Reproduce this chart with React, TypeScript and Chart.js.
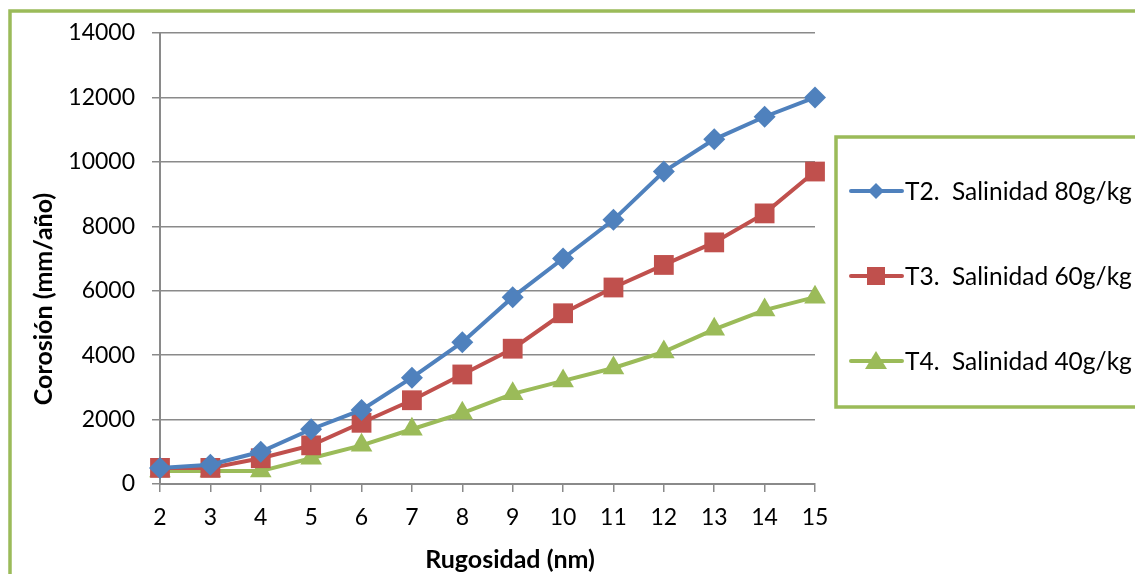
import React, { useEffect, useRef } from "react";
import { Chart, registerables } from "chart.js";

Chart.register(...registerables);

const categories = ["2", "3", "4", "5", "6", "7", "8", "9", "10", "11", "12", "13", "14", "15"];
const t2Values = [500, 600, 1000, 1700, 2300, 3300, 4400, 5800, 7000, 8200, 9700, 10700, 11400, 12000];
const t3Values = [500, 500, 800, 1200, 1900, 2600, 3400, 4200, 5300, 6100, 6800, 7500, 8400, 9700];
const t4Values = [400, 400, 400, 800, 1200, 1700, 2200, 2800, 3200, 3600, 4100, 4800, 5400, 5800];
const seriesNames = ["T2.  Salinidad 80g/kg", "T3.  Salinidad 60g/kg", "T4.  Salinidad 40g/kg"];
const xTitle = "Rugosidad (nm)";
const yTitle = "Corosión (mm/año)";

const BLUE = "#4F81BD";
const RED = "#C0504D";
const GREEN = "#9BBB59";
const FONT = "Lato, 'Open Sans', sans-serif";

const decorPlugin = {
  id: "decor",
  afterDraw(chart: any) {
    const ctx = chart.ctx as CanvasRenderingContext2D;
    ctx.save();
    // outer frame
    ctx.strokeStyle = GREEN;
    ctx.lineWidth = 3.5;
    ctx.strokeRect(10, 11, 1200, 700);
    // axis titles
    ctx.fillStyle = "#000";
    ctx.font = `bold 25px ${FONT}`;
    ctx.textAlign = "center";
    ctx.textBaseline = "middle";
    ctx.fillText(xTitle, 510, 560);
    ctx.save();
    ctx.translate(44, 299);
    ctx.rotate(-Math.PI / 2);
    ctx.fillText(yTitle, 0, 0);
    ctx.restore();
    // legend box
    ctx.fillStyle = "#fff";
    ctx.fillRect(836, 137, 400, 270);
    ctx.strokeStyle = GREEN;
    ctx.lineWidth = 3.5;
    ctx.strokeRect(836, 137, 400, 270);
    const ys = [191, 276, 361];
    const colors = [BLUE, RED, GREEN];
    chart.data.datasets.forEach((ds: any, i: number) => {
      const y = ys[i];
      ctx.strokeStyle = colors[i];
      ctx.lineWidth = 4;
      ctx.lineCap = "round";
      ctx.beginPath();
      ctx.moveTo(851, y);
      ctx.lineTo(902, y);
      ctx.stroke();
      ctx.fillStyle = colors[i];
      ctx.beginPath();
      const cx = 876;
      if (i === 0) {
        ctx.moveTo(cx, y - 8);
        ctx.lineTo(cx + 8, y);
        ctx.lineTo(cx, y + 8);
        ctx.lineTo(cx - 8, y);
      } else if (i === 1) {
        ctx.rect(cx - 9, y - 9, 18, 18);
      } else {
        ctx.moveTo(cx, y - 10);
        ctx.lineTo(cx + 11, y + 8);
        ctx.lineTo(cx - 11, y + 8);
      }
      ctx.closePath();
      ctx.fill();
      ctx.fillStyle = "#000";
      ctx.font = `24.5px ${FONT}`;
      ctx.textAlign = "left";
      ctx.textBaseline = "middle";
      ctx.fillText(ds.label, 905, y + 1);
    });
    ctx.restore();
  },
};

export default function App() {
  const ref = useRef<HTMLCanvasElement>(null);
  useEffect(() => {
    if (!ref.current) return;
    const mk = (label: string, data: number[], color: string, style: any, radius: number) => ({
      label,
      data,
      borderColor: color,
      backgroundColor: color,
      borderWidth: 4,
      pointStyle: style,
      pointRadius: radius,
      pointBorderWidth: 0,
      pointBackgroundColor: color,
      pointBorderColor: color,
      tension: 0,
    });
    const chart = new Chart(ref.current, {
      type: "line",
      data: {
        labels: categories,
        datasets: [
          mk(seriesNames[0], t2Values, BLUE, "rectRot", 11),
          mk(seriesNames[1], t3Values, RED, "rect", 14),
          mk(seriesNames[2], t4Values, GREEN, "triangle", 12.5),
        ],
      },
      options: {
        animation: false,
        responsive: false,
        maintainAspectRatio: false,
        layout: { padding: { left: 0, right: 320, top: 33, bottom: 0 } },
        plugins: { legend: { display: false }, tooltip: { enabled: false } },
        scales: {
          x: {
            type: "category",
            offset: false,
            grid: { drawOnChartArea: false, drawTicks: true, tickLength: 8, color: "#8a8a8a", lineWidth: 1.5 },
            border: { display: true, color: "#8a8a8a", width: 2 },
            ticks: { color: "#000", font: { family: FONT, size: 23 }, padding: 12, maxRotation: 0, autoSkip: false },
            afterFit: (s: any) => { s.height = 90; },
          },
          y: {
            min: 0,
            max: 14000,
            grid: { drawOnChartArea: true, drawTicks: true, tickLength: 8, color: "#8a8a8a", lineWidth: 1.5 },
            border: { display: true, color: "#8a8a8a", width: 2 },
            ticks: {
              stepSize: 2000,
              color: "#000",
              font: { family: FONT, size: 23 },
              padding: 17,
              callback: (v: any) => String(v),
            },
            afterFit: (s: any) => { s.width = 160; },
          },
        },
      },
      plugins: [decorPlugin],
    });
    return () => chart.destroy();
  }, []);
  return (
    <div style={{ position: "absolute", left: 0, top: 0, width: 1135, height: 574, background: "#fff" }}>
      <canvas ref={ref} width={1135} height={574} style={{ width: 1135, height: 574 }} />
    </div>
  );
}
